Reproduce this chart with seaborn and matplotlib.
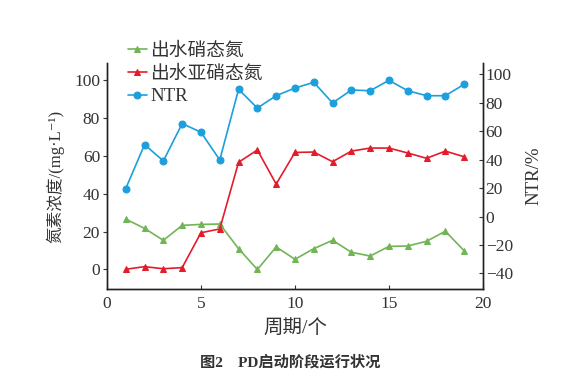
import matplotlib
matplotlib.use("Agg")
import matplotlib.pyplot as plt
import seaborn as sns

# data
cycles = list(range(1, 20))
nitrate = [26.6, 21.7, 15.4, 23.3, 23.8, 24.0, 11.0, 0.0, 11.9, 5.4,
           11.0, 15.4, 9.1, 7.1, 12.2, 12.4, 14.9, 20.2, 9.9]
nitrite = [0.1, 1.5, 0.4, 1.0, 19.4, 21.4, 56.6, 63.1, 45.1, 61.8,
           62.0, 56.9, 62.5, 64.1, 64.1, 61.5, 58.7, 62.5, 59.5]
ntr = [19.7, 50.6, 39.1, 65.4, 59.3, 39.8, 89.5, 76.3, 85.0, 90.4,
       94.4, 79.9, 89.0, 88.5, 95.8, 88.5, 85.0, 85.0, 93.0]

labels = ["出水硝态氮", "出水亚硝态氮", "NTR"]
colors = ["#72b556", "#e31c2b", "#1c9fdc"]

sns.set_style("ticks")
plt.rcParams["font.family"] = ["Liberation Serif", "Noto Sans CJK SC", "DejaVu Serif"]
txt = "#333333"

fig = plt.figure(figsize=(5.77, 3.83), dpi=100)
ax = fig.add_axes([0.1854, 0.2454, 0.6516, 0.5901])
ax2 = ax.twinx()

sns.lineplot(x=cycles, y=nitrate, ax=ax, color=colors[0], marker="^",
             markersize=5, markeredgecolor=colors[0], linewidth=1.2, label=labels[0])
sns.lineplot(x=cycles, y=nitrite, ax=ax, color=colors[1], marker="^",
             markersize=5, markeredgecolor=colors[1], linewidth=1.2, label=labels[1])
sns.lineplot(x=cycles, y=ntr, ax=ax2, color=colors[2], marker="o",
             markersize=5, markeredgecolor=colors[2], linewidth=1.2, label=labels[2])

ax.set_xlim(0, 20)
ax.set_xticks([0, 5, 10, 15, 20])
ax.set_ylim(-10.3, 109)
ax.set_yticks([0, 20, 40, 60, 80, 100])
ax2.set_ylim(-51, 108)
ax2.set_yticks([-40, -20, 0, 20, 40, 60, 80, 100])
ax2.set_yticklabels(["−40", "−20", "0", "20", "40", "60", "80", "100"])

for a in (ax, ax2):
    a.spines["top"].set_visible(False)
    for s in a.spines.values():
        s.set_linewidth(1.0)
        s.set_color("#222222")
ax.tick_params(axis="x", direction="in", length=3, labelsize=12.5, colors=txt, pad=5)
ax.tick_params(axis="y", direction="out", length=3, labelsize=12.5, colors=txt, pad=2)
ax2.tick_params(axis="y", direction="in", length=3, labelsize=12.5, colors=txt, pad=2)

ax.set_xlabel("周期/个", fontsize=14, color=txt, labelpad=6)
ax.set_ylabel("氮素浓度/(mg·L⁻¹)", fontsize=12, color=txt, labelpad=7)
ax2.set_ylabel("NTR/%", fontsize=13.5, color=txt, labelpad=9)

h1, l1 = ax.get_legend_handles_labels()
h2, l2 = ax2.get_legend_handles_labels()
ax2.get_legend().remove()
ax.legend(h1 + h2, l1 + l2, loc="upper left", bbox_to_anchor=(0.035, 1.125),
          frameon=False, fontsize=13.5, handlelength=1.05, handletextpad=0.15,
          labelspacing=0.3, borderaxespad=0, labelcolor=txt)

fig.text(0.503, 0.055, "图2　PD启动阶段运行状况", ha="center", va="center",
         fontsize=11, fontweight="bold", color=txt)

fig.savefig("out.png", dpi=100)
